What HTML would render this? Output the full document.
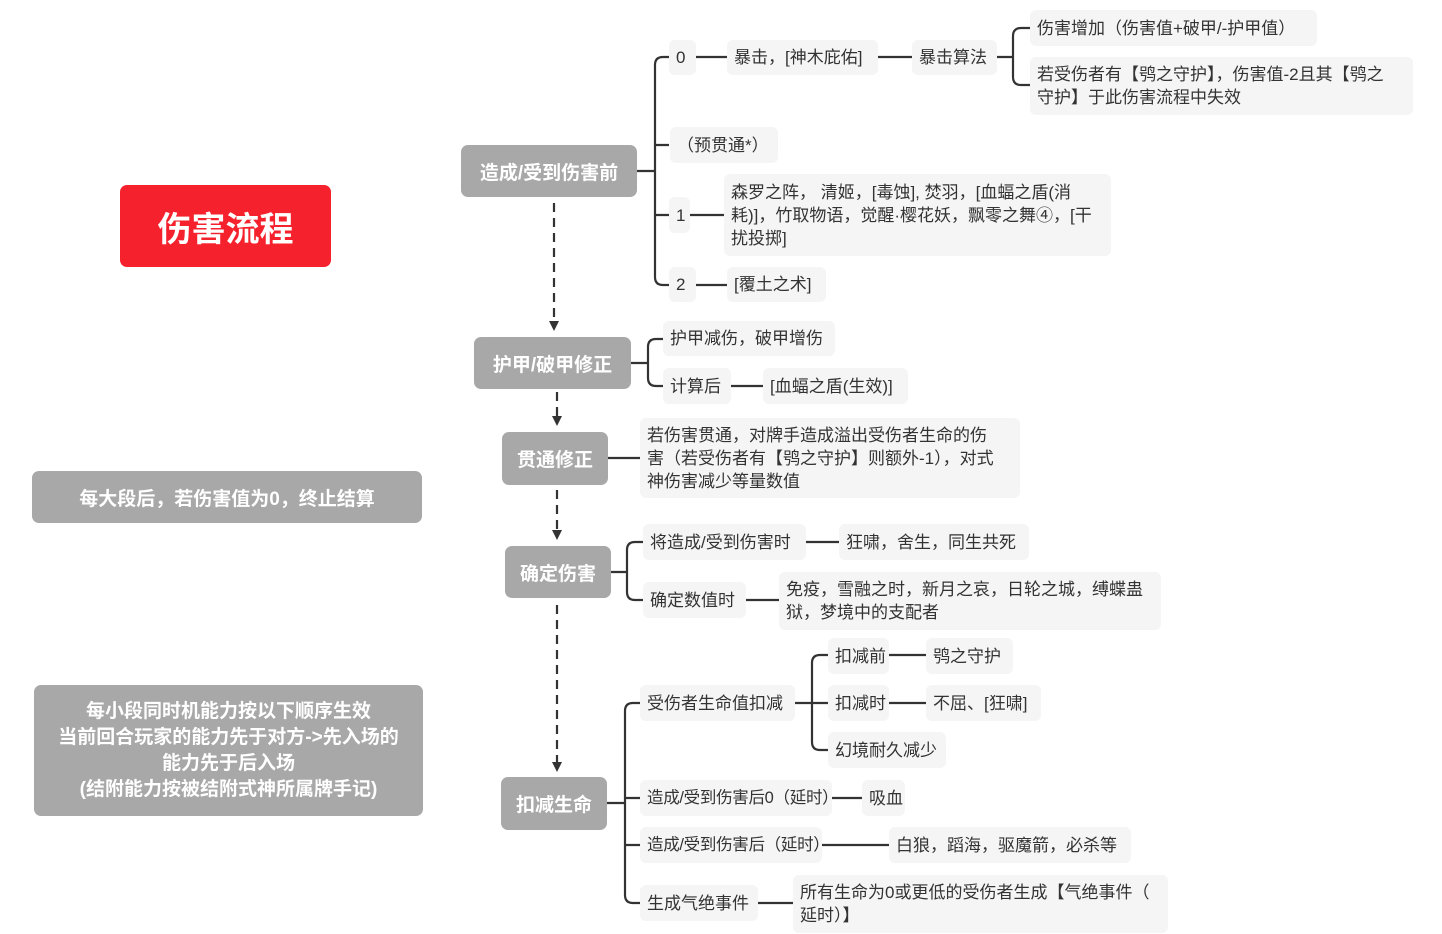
<!DOCTYPE html>
<html><head><meta charset="utf-8"><style>
body{margin:0;width:1442px;height:934px;background:#fff;position:relative;overflow:hidden;font-family:"Liberation Sans","Noto Sans CJK SC",sans-serif}
.b{position:absolute;box-sizing:border-box;background:#f5f5f5;border-radius:6px;color:#333;font-size:17px;line-height:23px;padding:0 7px;display:flex;align-items:center;white-space:nowrap}
.m{position:absolute;box-sizing:border-box;background:#a8a8a8;border-radius:7px;color:#fff;font-weight:bold;font-size:19px;display:flex;align-items:center;justify-content:center;text-align:center}
svg{position:absolute;left:0;top:0}
</style></head><body>
<svg width="1442" height="934" fill="none" stroke="#333" stroke-width="2.2">
<path d="M637 171H655M669 57h-6q-8 0-8 8V277q0 8 8 8h6M655 145h14M655 215h14"/>
<path d="M696 57h31M878 57h34M997 57h16M1030 28h-9q-8 0-8 8V77q0 8 8 8h9"/>
<path d="M690 215h34M696 285h31"/>
<path d="M631 363h17M663 339h-7q-8 0-8 8v31q0 8 8 8h7M731 386h32"/>
<path d="M608 458h32"/>
<path d="M611 572h16M643 542h-8q-8 0-8 8v42q0 8 8 8h8M806 542h33M746 600h33"/>
<path d="M607 803h18M640 703h-7q-8 0-8 8V895q0 8 8 8h7M625 798h15M625 845h15"/>
<path d="M795 703h33M828 655h-8q-8 0-8 8V742q0 8 8 8h8M889 655h37M889 703h37"/>
<path d="M832 798h30M822 845h67M758 903h35"/>
<g stroke-dasharray="9 6"><path d="M554 203V322M557 392V418M557 490V532M557 605V764"/></g>
<g fill="#333" stroke="none"><path d="M549 321h10l-5 10zM552 416h10l-5 10zM552 530h10l-5 10zM552 762h10l-5 10z"/></g>
</svg>
<div class="m" style="left:120px;top:185px;width:211px;height:82px;background:#f5222d;font-size:34px">伤害流程</div>
<div class="m" style="left:32px;top:471px;width:390px;height:52px">每大段后，若伤害值为0，终止结算</div>
<div class="m" style="left:34px;top:685px;width:389px;height:131px;line-height:26px">每小段同时机能力按以下顺序生效<br>当前回合玩家的能力先于对方-&gt;先入场的<br>能力先于后入场<br>(结附能力按被结附式神所属牌手记)</div>
<div class="m" style="left:461px;top:145px;width:176px;height:52px">造成/受到伤害前</div>
<div class="m" style="left:474px;top:337px;width:157px;height:52px">护甲/破甲修正</div>
<div class="m" style="left:502px;top:432px;width:106px;height:53px">贯通修正</div>
<div class="m" style="left:505px;top:546px;width:106px;height:52px">确定伤害</div>
<div class="m" style="left:501px;top:777px;width:106px;height:53px">扣减生命</div>

<div class="b" style="left:669px;top:40px;width:27px;height:35px">0</div>
<div class="b" style="left:727px;top:40px;width:151px;height:35px">暴击，[神木庇佑]</div>
<div class="b" style="left:912px;top:40px;width:85px;height:35px">暴击算法</div>
<div class="b" style="left:1030px;top:10px;width:287px;height:36px">伤害增加（伤害值+破甲/-护甲值）</div>
<div class="b" style="left:1030px;top:57px;width:383px;height:58px">若受伤者有【鸮之守护】，伤害值-2且其【鸮之<br>守护】于此伤害流程中失效</div>
<div class="b" style="left:670px;top:127px;width:108px;height:36px">（预贯通*）</div>
<div class="b" style="left:669px;top:197px;width:21px;height:36px">1</div>
<div class="b" style="left:724px;top:174px;width:387px;height:82px">森罗之阵， 清姬，[毒蚀], 焚羽，[血蝠之盾(消<br>耗)]，竹取物语，觉醒·樱花妖，飘零之舞④，[干<br>扰投掷]</div>
<div class="b" style="left:669px;top:267px;width:27px;height:35px">2</div>
<div class="b" style="left:727px;top:267px;width:99px;height:35px">[覆土之术]</div>

<div class="b" style="left:663px;top:321px;width:172px;height:35px">护甲减伤，破甲增伤</div>
<div class="b" style="left:663px;top:368px;width:68px;height:36px">计算后</div>
<div class="b" style="left:763px;top:368px;width:145px;height:36px">[血蝠之盾(生效)]</div>

<div class="b" style="left:640px;top:418px;width:380px;height:80px">若伤害贯通，对牌手造成溢出受伤者生命的伤<br>害（若受伤者有【鸮之守护】则额外-1），对式<br>神伤害减少等量数值</div>

<div class="b" style="left:643px;top:524px;width:163px;height:36px">将造成/受到伤害时</div>
<div class="b" style="left:839px;top:524px;width:190px;height:36px">狂啸，舍生，同生共死</div>
<div class="b" style="left:643px;top:582px;width:103px;height:36px">确定数值时</div>
<div class="b" style="left:779px;top:572px;width:382px;height:58px">免疫，雪融之时，新月之哀，日轮之城，缚蝶蛊<br>狱，梦境中的支配者</div>

<div class="b" style="left:640px;top:685px;width:155px;height:36px">受伤者生命值扣减</div>
<div class="b" style="left:828px;top:638px;width:61px;height:36px">扣减前</div>
<div class="b" style="left:926px;top:638px;width:87px;height:36px">鸮之守护</div>
<div class="b" style="left:828px;top:685px;width:61px;height:36px">扣减时</div>
<div class="b" style="left:926px;top:685px;width:115px;height:36px">不屈、[狂啸]</div>
<div class="b" style="left:828px;top:732px;width:118px;height:36px">幻境耐久减少</div>
<div class="b" style="left:640px;top:780px;width:192px;height:36px;font-size:16.5px;letter-spacing:-0.3px">造成/受到伤害后0（延时）</div>
<div class="b" style="left:862px;top:780px;width:43px;height:36px">吸血</div>
<div class="b" style="left:640px;top:827px;width:182px;height:36px;font-size:16.5px;letter-spacing:-0.3px">造成/受到伤害后（延时）</div>
<div class="b" style="left:889px;top:827px;width:242px;height:36px">白狼，蹈海，驱魔箭，必杀等</div>
<div class="b" style="left:640px;top:885px;width:118px;height:36px">生成气绝事件</div>
<div class="b" style="left:793px;top:875px;width:375px;height:58px">所有生命为0或更低的受伤者生成【气绝事件（<br>延时）】</div>
</body></html>
